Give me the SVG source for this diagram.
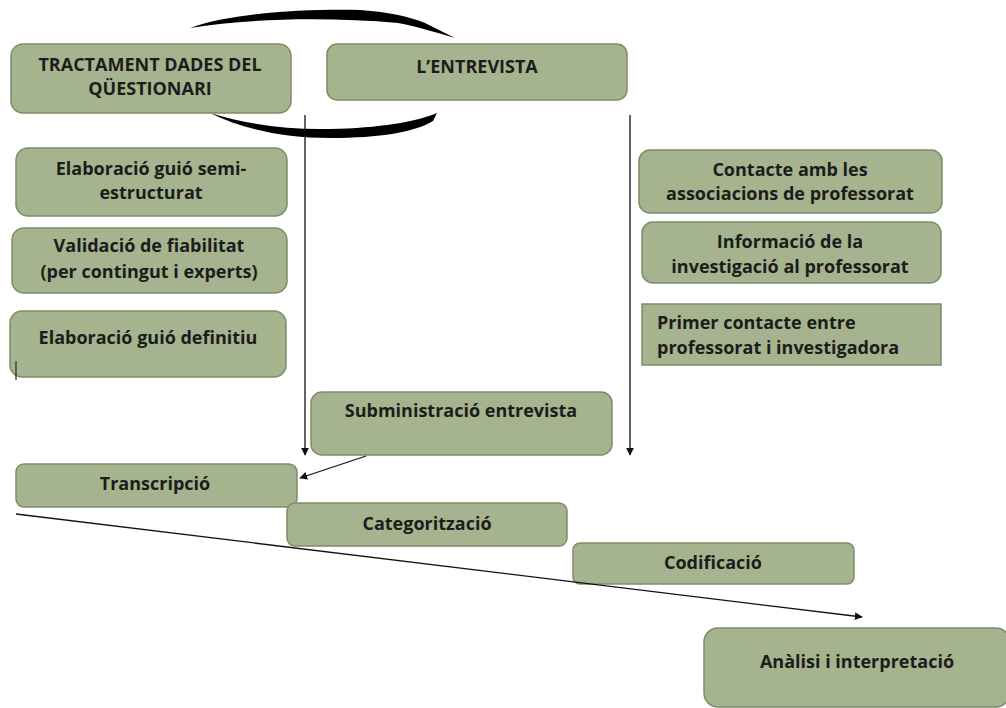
<svg xmlns="http://www.w3.org/2000/svg" width="1006" height="708" viewBox="0 0 1006 708">
<style>
.n{fill:#a5b48e;stroke:#7d8c69;stroke-width:1.5}
.t{font-family:"Open Sans","Liberation Sans",sans-serif;font-weight:bold;font-size:18px;fill:#1c1c1c;text-anchor:middle}
.l{text-anchor:start}
.c{stroke:#111;stroke-width:1.3;fill:none}
</style>
<defs>
<marker id="ah" viewBox="0 0 10 10" refX="9" refY="5" markerWidth="8" markerHeight="8" orient="auto" markerUnits="userSpaceOnUse">
<path d="M0,0 L10,5 L0,10 z" fill="#111"/>
</marker>
</defs>
<rect width="1006" height="708" fill="#fff"/>
<g id="cycle">
<path d="M190,28 C230,13 300,9 360,10 C390,12 410,17 425,23 L455,38 C435,32 415,26 398,23 C330,17 250,18 190,28 z" fill="#000"/>
<path d="M210,113 C250,125 290,130 330,129 C380,128 415,122 437,113 L433,121 C415,132 380,138 330,138 C285,138 245,130 210,113 z" fill="#000"/>
</g>
<g id="n1"><rect class="n" x="11" y="44" width="280" height="69" rx="12"/><text class="t" x="150" y="71">TRACTAMENT DADES DEL</text><text class="t" x="150" y="95">QÜESTIONARI</text></g>
<g id="n2"><rect class="n" x="327" y="44" width="300" height="56" rx="10"/><text class="t" x="477" y="73">L’ENTREVISTA</text></g>
<g id="n3"><rect class="n" x="16" y="148" width="271" height="68" rx="12"/><text class="t" x="151" y="175">Elaboració guió semi-</text><text class="t" x="151" y="199">estructurat</text></g>
<g id="n4"><rect class="n" x="12" y="228" width="275" height="65" rx="12"/><text class="t" x="149" y="252">Validació de fiabilitat</text><text class="t" x="149" y="278">(per contingut i experts)</text></g>
<g id="n5"><rect class="n" x="10" y="311" width="276" height="66" rx="12"/><text class="t" x="148" y="344">Elaboració guió definitiu</text></g>
<line x1="16" y1="361" x2="16" y2="380" stroke="#333" stroke-width="1.3"/>
<g id="n6"><rect class="n" x="639" y="150" width="303" height="63" rx="11"/><text class="t" x="790" y="176">Contacte amb les</text><text class="t" x="790" y="200">associacions de professorat</text></g>
<g id="n7"><rect class="n" x="642" y="222" width="299" height="61" rx="11"/><text class="t" x="790" y="248">Informació de la</text><text class="t" x="790" y="273">investigació al professorat</text></g>
<g id="n8"><rect class="n" x="642" y="304" width="299" height="61"/><text class="t l" x="657" y="329">Primer contacte entre</text><text class="t l" x="657" y="354">professorat i investigadora</text></g>
<g id="n9"><rect class="n" x="311" y="392" width="301" height="63" rx="11"/><text class="t" x="461" y="417">Subministració entrevista</text></g>
<g id="n10"><rect class="n" x="16" y="464" width="281" height="43" rx="8"/><text class="t" x="155" y="490">Transcripció</text></g>
<g id="n11"><rect class="n" x="287" y="503" width="280" height="43" rx="8"/><text class="t" x="427" y="530">Categorització</text></g>
<g id="n12"><rect class="n" x="573" y="543" width="281" height="41" rx="7"/><text class="t" x="713" y="569">Codificació</text></g>
<g id="n13"><rect class="n" x="704" y="628" width="306" height="79" rx="14"/><text class="t" x="857" y="668">Anàlisi i interpretació</text></g>
<g id="connectors">
<line class="c" x1="305" y1="115" x2="305" y2="455" marker-end="url(#ah)"/>
<line class="c" x1="630" y1="115" x2="630" y2="455" marker-end="url(#ah)"/>
<line class="c" x1="366" y1="456" x2="300" y2="478" marker-end="url(#ah)"/>
<line class="c" x1="16" y1="514" x2="862" y2="617" marker-end="url(#ah)"/>
</g>
</svg>
